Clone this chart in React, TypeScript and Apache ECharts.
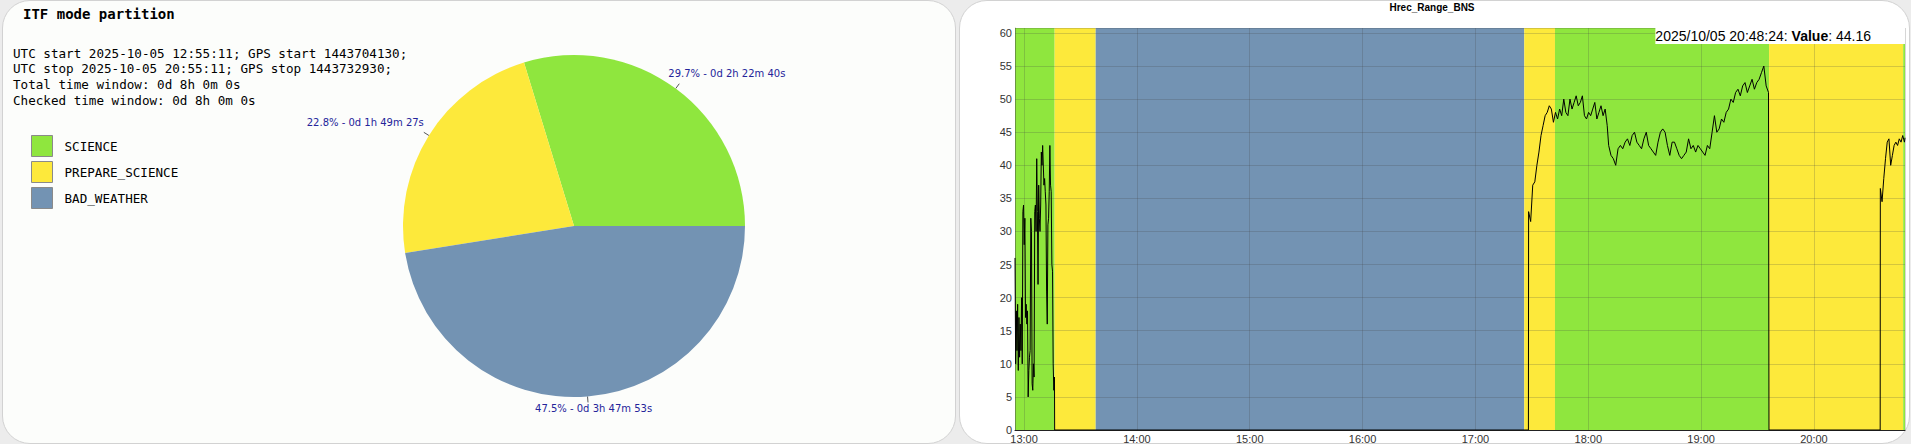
import React, { useEffect, useRef } from 'react';
import * as echarts from 'echarts';

// ---------- Left panel (pie) data ----------
const modeNames = ['SCIENCE', 'PREPARE_SCIENCE', 'BAD_WEATHER'];
const modeColors = ['#8fe63e', '#fde93b', '#7393b3'];
const modeSeconds = [8560, 6567, 13673];
const modeDurations = ['0d 2h 22m 40s', '0d 1h 49m 27s', '0d 3h 47m 53s'];
const panelTitle = 'ITF mode partition';
const infoLines = [
  'UTC start 2025-10-05 12:55:11; GPS start 1443704130;',
  'UTC stop 2025-10-05 20:55:11; GPS stop 1443732930;',
  'Total time window: 0d 8h 0m 0s',
  'Checked time window: 0d 8h 0m 0s',
];

// ---------- Right panel (time series) data ----------
const chartTitle = 'Hrec_Range_BNS';
const dateLabel = '2025/10/05';
const segModes = [0, 1, 2, 1, 0, 1, 0];
const segStarts = ['12:55:11', '13:16:16', '13:38:05', '17:25:58', '17:42:17', '19:36:07', '20:47:26'];
const segEnds = ['13:16:16', '13:38:05', '17:25:58', '17:42:17', '19:36:07', '20:47:26', '20:55:11'];
const axisStart = '12:55:11';
const axisEnd = '20:48:24';
const yMax = 60.75;
const yStep = 5;

const runAStart = '12:55:11';
const runAStepSec = 21;
const runAValues = [26, 10, 18, 12, 19, 9, 17, 11, 16, 12, 20, 10, 33, 34, 28, 32, 17, 19, 16, 18, 5, 9, 11, 12, 32, 30, 7, 6, 10, 8, 33, 34, 30, 41, 33, 22, 37, 32, 30, 34, 42, 40, 43, 43, 37, 38, 36, 34, 21, 16, 31, 32, 36, 43, 37, 36, 25, 24, 10, 6, 8];
const gap1Zeros = ['13:16:16', '17:28:10'];
const runB1Start = '17:28:16';
const runB1StepSec = 66;
const runB1Values = [33, 31.5, 37, 37.5, 40, 42, 44.5, 46, 47.5, 48, 49, 48.5, 46.5, 48, 47, 48.5, 47.5, 50, 48, 47.5, 50, 48.5, 49.5, 50.5, 49, 49.5, 50.5, 47.5, 47, 48, 47.5, 48.5, 49.5, 47, 48, 49, 47.5, 48.5, 46];
const runB2Start = '18:10:50';
const runB2StepSec = 75;
const runB2Values = [43, 41.5, 41, 40, 42.5, 43, 42.5, 43.5, 44, 43, 44.5, 45, 43.5, 43, 42.5, 44, 45, 43, 42.5, 42, 41.5, 43.5, 45, 45.5, 45, 43, 41.5, 43.5, 43.5, 42.5, 41.5, 41, 41.5, 42, 44, 42.5, 43, 42, 43, 42.5, 42, 41.5, 43, 42.5, 45, 47.5, 45, 45.5, 47, 46.5, 48, 48.5, 50, 49.5, 51, 51.5, 50.5, 52, 52.5, 51, 52, 53, 51.5, 52.5, 53, 54, 55, 52, 51];
const gap2Zeros = ['19:36:05', '20:35:12'];
const runCStart = '20:35:17';
const runCStepSec = 55;
const runCValues = [36.5, 34.5, 38, 41, 43.5, 44, 40, 41.5, 43, 43.5, 43, 44, 43.5, 44.5, 43.5];
const lastTime = '20:48:24';
const lastValue = 44.16;

const toMs = (hms: string) => {
  const [h, m, s] = hms.split(':').map(Number);
  return Date.UTC(2025, 9, 5, h, m, s);
};

const run = (start: string, step: number, vals: number[]) =>
  vals.map((v, i) => [toMs(start) + i * step * 1000, v]);

const pad2 = (n: number) => (n < 10 ? '0' : '') + n;

export default function App() {
  const ref = useRef<HTMLDivElement>(null);

  useEffect(() => {
    if (!ref.current) return;
    const chart = echarts.init(ref.current, undefined, { renderer: 'svg' });
    const total = modeSeconds.reduce((a, b) => a + b, 0);
    const xMin = toMs(axisStart);
    const xMax = toMs(axisEnd);

    const lineData = [
      ...run(runAStart, runAStepSec, runAValues),
      ...gap1Zeros.map((t) => [toMs(t), 0]),
      ...run(runB1Start, runB1StepSec, runB1Values),
      ...run(runB2Start, runB2StepSec, runB2Values),
      ...gap2Zeros.map((t) => [toMs(t), 0]),
      ...run(runCStart, runCStepSec, runCValues),
      [toMs(lastTime), lastValue],
    ];

    const bands = segModes.map((m, i) => [
      { xAxis: toMs(segStarts[i]), itemStyle: { color: modeColors[m], opacity: 1 } },
      { xAxis: Math.min(toMs(segEnds[i]), xMax) },
    ]);

    const labelDist = [-11, 0, -53];
    const labelDy = [-10, -10, 6];

    const mono = 'DejaVu Sans Mono';
    const sans = 'Liberation Sans, Arial, sans-serif';

    const option: any = {
      animation: false,
      useUTC: true,
      backgroundColor: 'transparent',
      title: [
        {
          text: `{a|${dateLabel} ${lastTime}: }{b|Value}{a|: ${lastValue}}`,
          right: 6,
          top: 28,
          padding: [1, 34, 1, 0],
          backgroundColor: '#ffffff',
          z: 20,
          textStyle: {
            fontWeight: 'normal',
            fontFamily: sans,
            fontSize: 14,
            color: '#000',
            rich: {
              a: { fontFamily: sans, fontSize: 14, fontWeight: 'normal', color: '#000', lineHeight: 14 },
              b: { fontFamily: sans, fontSize: 14, fontWeight: 'bold', color: '#000', lineHeight: 14 },
            },
          },
        },
      ],
      legend: {
        orient: 'vertical',
        left: 26,
        top: 130,
        itemWidth: 21,
        itemHeight: 21,
        itemGap: 4,
        icon: 'rect',
        data: modeNames,
        selectedMode: false,
        itemStyle: { borderColor: '#8a8a8a', borderWidth: 1 },
        textStyle: { fontFamily: mono, fontSize: 12.6, color: '#000', padding: [5, 0, 0, 7] },
      },
      grid: { left: 1015, top: 28, width: 890, height: 404, containLabel: false },
      xAxis: {
        type: 'time',
        min: xMin,
        max: xMax,
        minInterval: 3600000,
        maxInterval: 3600000,
        z: 1,
        axisLine: { show: true, lineStyle: { color: '#222', width: 1 } },
        axisTick: { show: false },
        splitLine: { show: true, lineStyle: { color: 'rgba(70,70,70,0.22)', width: 1 } },
        axisLabel: {
          fontFamily: sans,
          fontSize: 11,
          color: '#333',
          margin: 3,
          showMinLabel: false,
          showMaxLabel: false,
          formatter: (v: number) => {
            const d = new Date(v);
            if (d.getUTCMinutes() !== 0 || d.getUTCSeconds() !== 0) return '';
            return pad2(d.getUTCHours()) + ':' + pad2(d.getUTCMinutes());
          },
        },
      },
      yAxis: {
        type: 'value',
        min: 0,
        max: yMax,
        interval: yStep,
        z: 1,
        axisLine: { show: true, lineStyle: { color: 'rgba(70,70,70,0.35)' } },
        axisTick: { show: false },
        splitLine: { show: true, lineStyle: { color: 'rgba(70,70,70,0.22)', width: 1 } },
        axisLabel: {
          fontFamily: sans,
          fontSize: 11,
          color: '#333',
          margin: 3,
          formatter: (v: number) => (Math.abs(v % yStep) < 1e-9 ? String(v) : ''),
        },
      },
      graphic: [
        {
          type: 'text',
          x: 23,
          y: 14,
          style: { text: panelTitle, fontFamily: mono, fontWeight: 'bold', fontSize: 14, fill: '#000', verticalAlign: 'middle' },
        },
        ...infoLines.map((t, i) => ({
          type: 'text',
          x: 13,
          y: 53.3 + i * 15.67,
          style: { text: t, fontFamily: mono, fontSize: 12.6, fill: '#000', verticalAlign: 'middle' },
        })),
        {
          type: 'text',
          x: 1432,
          y: 7.5,
          style: { text: chartTitle, fontFamily: sans, fontWeight: 'bold', fontSize: 10, fill: '#000', align: 'center', verticalAlign: 'middle' },
        },
      ],
      series: [
        {
          type: 'pie',
          center: [574, 226],
          radius: 171,
          startAngle: 0,
          clockwise: false,
          avoidLabelOverlap: false,
          emphasis: { disabled: true },
          itemStyle: { borderWidth: 0 },
          label: {
            show: true,
            position: 'outside',
            fontFamily: 'DejaVu Sans',
            fontSize: 10,
            color: '#24249a',
            formatter: (p: any) => `${((p.value / total) * 100).toFixed(1)}% - ${modeDurations[p.dataIndex]}`,
          },
          labelLine: { show: true, length: 6, length2: 0, lineStyle: { color: '#555', width: 1 } },
          labelLayout: (p: any) => ({ dy: labelDy[p.dataIndex] }),
          data: modeNames.map((n, i) => ({
            name: n,
            value: modeSeconds[i],
            itemStyle: { color: modeColors[i] },
            label: { distanceToLabelLine: labelDist[i] },
          })),
        },
        {
          name: chartTitle,
          type: 'line',
          data: lineData,
          showSymbol: false,
          symbol: 'none',
          z: 3,
          lineStyle: { color: '#000', width: 1 },
          emphasis: { disabled: true },
          markArea: { silent: true, z: 0, data: bands },
        },
      ],
    };

    chart.setOption(option);
    return () => chart.dispose();
  }, []);

  return (
    <div style={{ position: 'fixed', left: 0, top: 0, width: 1911, height: 444, background: '#ececec', overflow: 'hidden' }}>
      <div
        style={{
          position: 'absolute', left: 2, top: 0, width: 954, height: 444, boxSizing: 'border-box',
          borderRadius: 28, border: '1px solid #d2d2d2', background: '#fcfdfb',
        }}
      />
      <div
        style={{
          position: 'absolute', left: 959, top: 0, width: 951, height: 444, boxSizing: 'border-box',
          borderRadius: 28, border: '1px solid #d2d2d2', background: '#ffffff',
        }}
      />
      <div ref={ref} style={{ position: 'absolute', left: 0, top: 0, width: 1911, height: 444 }} />
    </div>
  );
}
